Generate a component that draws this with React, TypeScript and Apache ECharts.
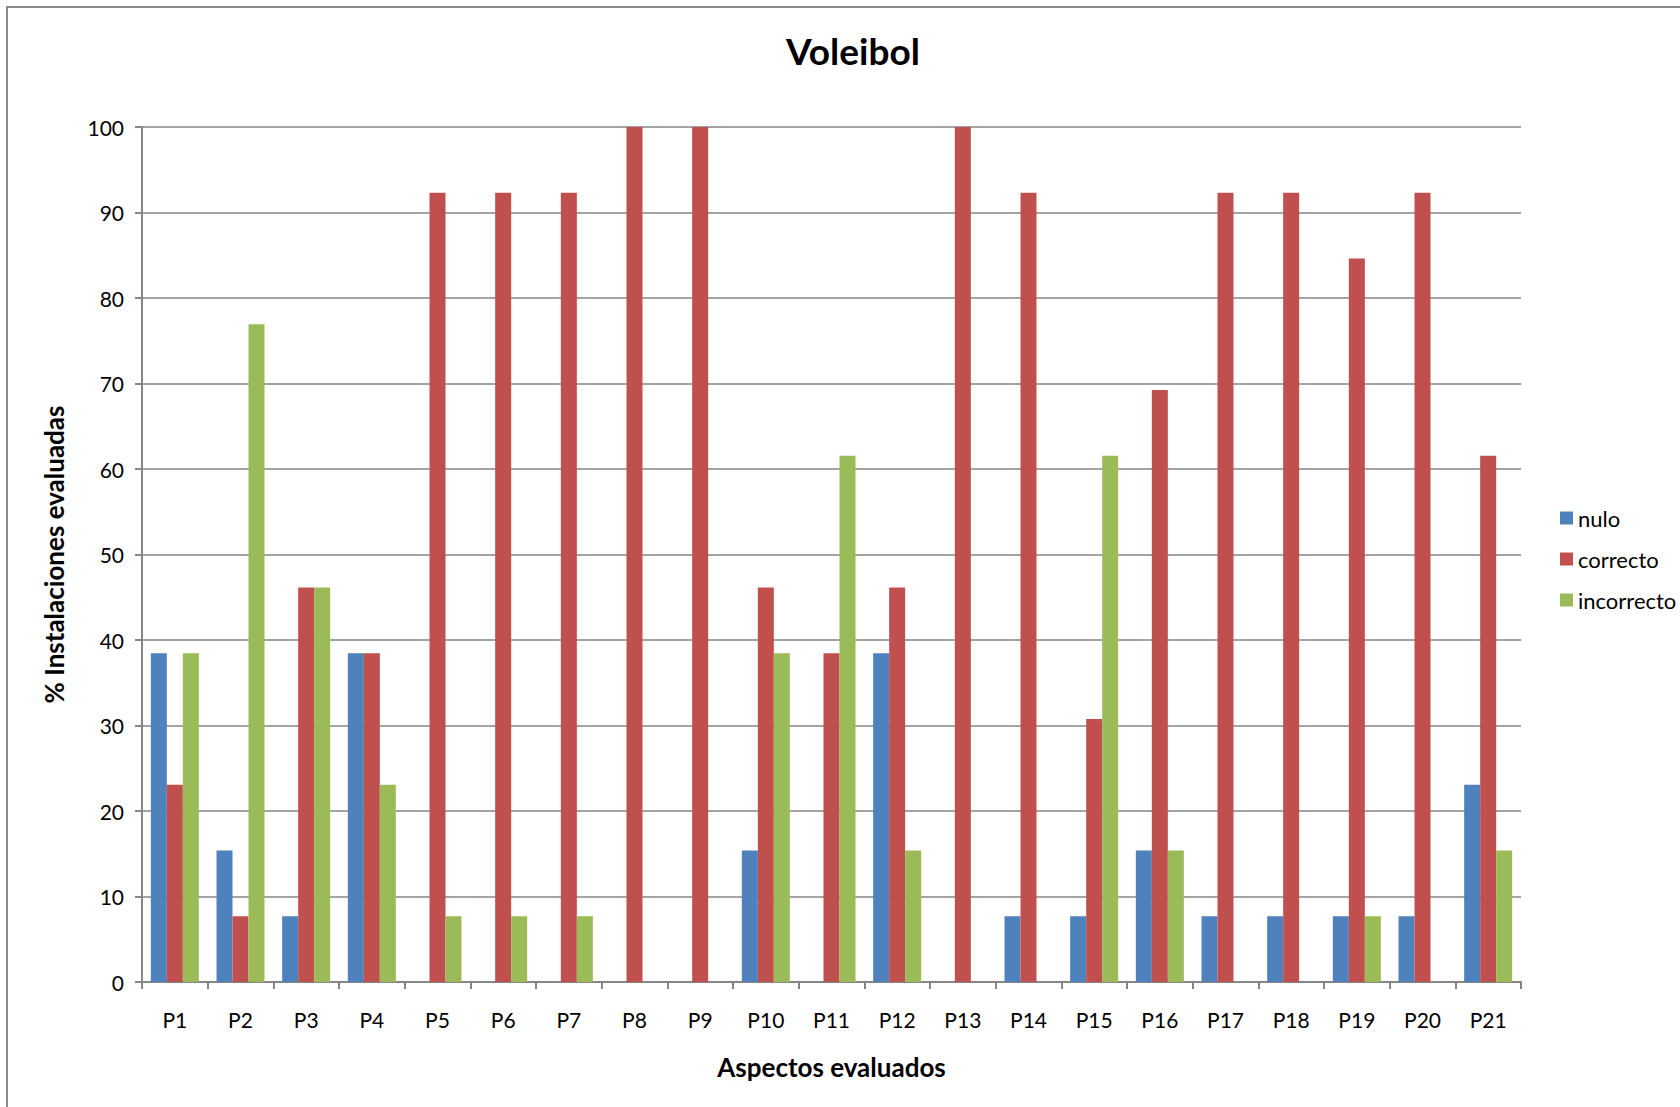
import React, { useEffect, useRef } from "react";
import * as echarts from "echarts";

const categories = ["P1","P2","P3","P4","P5","P6","P7","P8","P9","P10","P11","P12","P13","P14","P15","P16","P17","P18","P19","P20","P21"];
const nulo = [38.46,15.38,7.69,38.46,0,0,0,0,0,15.38,0,38.46,0,7.69,7.69,15.38,7.69,7.69,7.69,7.69,23.08];
const correcto = [23.08,7.69,46.15,38.46,92.31,92.31,92.31,100,100,46.15,38.46,46.15,100,92.31,30.77,69.23,92.31,92.31,84.62,92.31,61.54];
const incorrecto = [38.46,76.92,46.15,23.08,7.69,7.69,7.69,0,0,38.46,61.54,15.38,0,0,61.54,15.38,0,0,7.69,0,15.38];
const yTicks = { min: 0, max: 100, interval: 10 };

const FONT = "Lato, 'Open Sans', sans-serif";

export default function App() {
  const ref = useRef<HTMLDivElement>(null);
  useEffect(() => {
    if (!ref.current) return;
    const chart = echarts.init(ref.current, null, { renderer: "svg" });
    const gray = "#868686";
    chart.setOption({
      animation: false,
      backgroundColor: "#ffffff",
      textStyle: { fontFamily: FONT, color: "#000" },
      title: {
        text: "Voleibol",
        left: 848,
        textAlign: "center",
        top: 27,
        textStyle: { fontFamily: FONT, fontSize: 37, fontWeight: "bold", color: "#000" },
      },
      graphic: [
        {
          type: "rect",
          shape: { x: 7, y: 7, width: 1720, height: 1200 },
          style: { fill: "none", stroke: "#8a8a8a", lineWidth: 2 },
          silent: true,
        },
      ],
      legend: {
        orient: "vertical",
        left: 1555,
        top: 502,
        itemWidth: 13,
        itemHeight: 13,
        itemGap: 19,
        icon: "rect",
        textStyle: { fontFamily: FONT, fontSize: 22, color: "#000" },
        data: ["nulo", "correcto", "incorrecto"],
      },
      grid: { left: 142, top: 127, width: 1379, height: 855, containLabel: false },
      xAxis: {
        type: "category",
        data: categories,
        name: "Aspectos evaluados",
        nameLocation: "middle",
        nameGap: 72,
        nameTextStyle: { fontFamily: FONT, fontSize: 26, fontWeight: "bold", color: "#000" },
        axisLine: { lineStyle: { color: gray, width: 2 } },
        axisTick: { show: true, length: 7, lineStyle: { color: gray, width: 2 } },
        axisLabel: { margin: 27, fontFamily: FONT, fontSize: 21, color: "#000" },
      },
      yAxis: {
        type: "value",
        min: yTicks.min,
        max: yTicks.max,
        interval: yTicks.interval,
        name: "% Instalaciones evaluadas",
        nameLocation: "middle",
        nameGap: 75,
        nameRotate: 90,
        nameTextStyle: { fontFamily: FONT, fontSize: 26, fontWeight: "bold", color: "#000" },
        axisLine: { show: true, lineStyle: { color: gray, width: 2 } },
        axisTick: { show: true, length: 7, inside: false, lineStyle: { color: gray, width: 2 } },
        axisLabel: { margin: 18, fontFamily: FONT, fontSize: 21, color: "#000" },
        splitLine: { show: true, lineStyle: { color: gray, width: 1.5 } },
      },
      series: [
        { name: "nulo", type: "bar", data: nulo, barWidth: 16, barGap: "0%", itemStyle: { color: "#4F81BD" } },
        { name: "correcto", type: "bar", data: correcto, barWidth: 16, barGap: "0%", itemStyle: { color: "#C0504D" } },
        { name: "incorrecto", type: "bar", data: incorrecto, barWidth: 16, barGap: "0%", itemStyle: { color: "#9BBB59" } },
      ],
    });
    return () => chart.dispose();
  }, []);
  return (
    <div
      ref={ref}
      style={{ position: "fixed", left: 0, top: 0, width: 1680, height: 1107 }}
    />
  );
}
